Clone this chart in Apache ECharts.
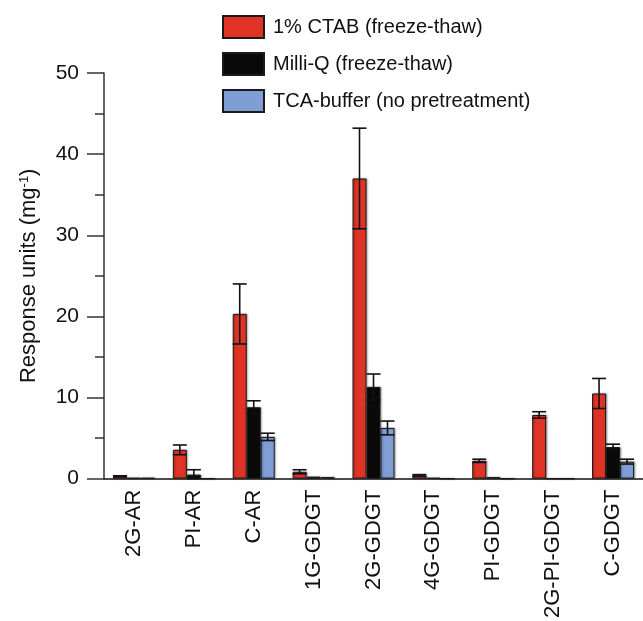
<!DOCTYPE html>
<html>
<head>
<meta charset="utf-8">
<script src="https://cdn.jsdelivr.net/npm/echarts@6/dist/echarts.min.js"></script>
<style>html,body{margin:0;padding:0;background:#fff;}#c{width:643px;height:621px;}</style>
</head>
<body>
<div id="c"></div>
<script>
const categories = ['2G-AR','PI-AR','C-AR','1G-GDGT','2G-GDGT','4G-GDGT','PI-GDGT','2G-PI-GDGT','C-GDGT'];
const seriesNames = ['1% CTAB (freeze-thaw)','Milli-Q (freeze-thaw)','TCA-buffer (no pretreatment)'];
const ctab     = [0.3, 3.55, 20.3, 0.85, 37.0, 0.4, 2.2, 7.85, 10.5];
const ctabErr  = [0.05, 0.6, 3.7, 0.25, 6.2, 0.1, 0.2, 0.4, 1.85];
const milliq   = [0.1, 0.5, 8.8, 0.25, 11.3, 0.1, 0.2, 0, 3.9];
const milliqErr= [0, 0.6, 0.8, 0, 1.6, 0, 0, 0, 0.35];
const tca      = [0.1, 0, 5.15, 0.2, 6.25, 0, 0, 0, 2.1];
const tcaErr   = [0, 0, 0.45, 0, 0.85, 0, 0, 0, 0.3];
const yTicks = [0, 10, 20, 30, 40, 50];

const colors = ['#E03326', '#0A0A0A', '#7F9ED6'];
const values = [ctab, milliq, tca];
const errs = [ctabErr, milliqErr, tcaErr];
const BW = 14;
const offsets = [-BW, 0, BW];
const FONT = 'Liberation Sans, Arial, Helvetica, sans-serif';

const chart = echarts.init(document.getElementById('c'), null, {renderer: 'canvas'});

const barSeries = seriesNames.map((n, i) => ({
  name: n,
  type: 'bar',
  data: values[i],
  barWidth: BW,
  barGap: '0%',
  itemStyle: {
    color: colors[i],
    borderColor: '#1a1a1a',
    borderWidth: 1,
    shadowColor: 'rgba(0,0,0,0.35)',
    shadowBlur: 2,
    shadowOffsetX: 1,
    shadowOffsetY: 0
  },
  emphasis: {disabled: true},
  z: 2
}));

const errSeries = seriesNames.map((n, i) => ({
  name: n + ' err',
  type: 'custom',
  data: values[i].map((v, k) => [k, v, errs[i][k]]),
  encode: {x: 0, y: 1},
  z: 5,
  silent: true,
  renderItem: function (params, api) {
    const k = api.value(0), v = api.value(1), e = api.value(2);
    if (!e || e <= 0) return null;
    const c = api.coord([k, v]);
    const hi = api.coord([k, v + e]);
    const lo = api.coord([k, Math.max(0, v - e)]);
    const x = c[0] + offsets[i];
    const hw = BW / 2;
    const st = {stroke: '#111', lineWidth: 1.6};
    return {
      type: 'group',
      children: [
        {type: 'line', shape: {x1: x, y1: hi[1], x2: x, y2: lo[1]}, style: st},
        {type: 'line', shape: {x1: x - hw, y1: hi[1], x2: x + hw, y2: hi[1]}, style: st},
        {type: 'line', shape: {x1: x - hw, y1: lo[1], x2: x + hw, y2: lo[1]}, style: st}
      ]
    };
  }
}));

chart.setOption({
  animation: false,
  textStyle: {fontFamily: FONT},
  legend: {
    data: seriesNames,
    orient: 'vertical',
    left: 222,
    top: 15,
    padding: 0,
    itemWidth: 41,
    itemHeight: 22,
    itemGap: 13,
    icon: 'rect',
    textStyle: {fontSize: 20, lineHeight: 22, color: '#111', fontFamily: FONT, padding: [0, 0, 0, 4]},
    selectedMode: false
  },
  grid: {left: 104, top: 73, width: 545, height: 408, containLabel: false},
  xAxis: {
    type: 'category',
    data: categories,
    axisLine: {lineStyle: {color: '#111', width: 1.5}},
    axisTick: {show: false},
    axisLabel: {rotate: 90, fontSize: 22, color: '#111', margin: 11, fontFamily: FONT, interval: 0}
  },
  yAxis: {
    type: 'value',
    min: yTicks[0],
    max: yTicks[yTicks.length - 1],
    interval: 10,
    name: '{a|Response units (mg}{s|-1}{a|)}',
    nameLocation: 'middle',
    nameGap: 64,
    nameRotate: 90,
    nameTextStyle: {
      rich: {
        a: {fontSize: 22, color: '#111', fontFamily: FONT},
        s: {fontSize: 13, color: '#111', fontFamily: FONT, verticalAlign: 'top', padding: [0, 0, 9, 0]}
      }
    },
    axisLine: {show: true, lineStyle: {color: '#333', width: 1.5}},
    axisTick: {show: true, length: 17, lineStyle: {color: '#333', width: 1.5}},
    minorTick: {show: true, splitNumber: 2, length: 9, lineStyle: {color: '#333', width: 1.5}},
    splitLine: {show: false},
    axisLabel: {fontSize: 21, color: '#111', margin: 25, fontFamily: FONT}
  },
  series: barSeries.concat(errSeries)
});
</script>
</body>
</html>
